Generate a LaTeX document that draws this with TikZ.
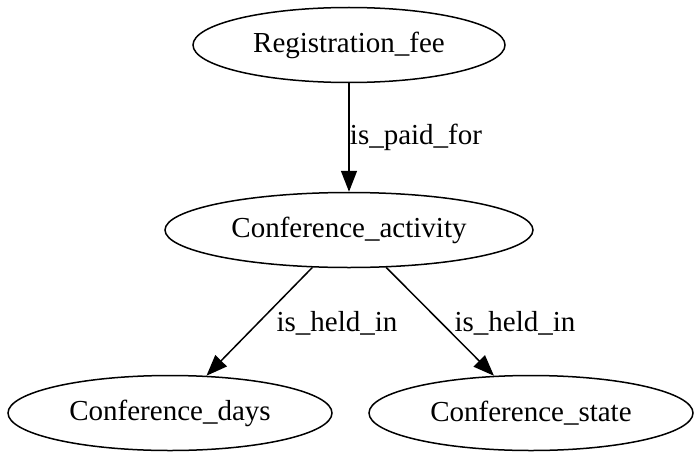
\documentclass[tikz,border=0pt]{standalone}
\usepackage{fontspec}
\setmainfont{Liberation Serif}
\usetikzlibrary{shapes.geometric,arrows.meta}
\begin{document}
\begin{tikzpicture}[x=1pt,y=-1pt,
  ent/.style={draw,ellipse,line width=1.5pt,inner sep=0pt,minimum height=75pt,font=\fontsize{29}{34}\selectfont},
  rel/.style={line width=1.5pt,-{Triangle[length=21pt,width=16pt]}},
  lbl/.style={inner sep=0pt,font=\fontsize{29}{34}\selectfont}]
\useasboundingbox (0,0) rectangle (700,460);
\node[ent,minimum width=312pt] (rf) at (349,45) {Registration\_fee};
\node[ent,minimum width=368pt] (ca) at (349,230) {Conference\_activity};
\node[ent,minimum width=324pt] (cd) at (170,413) {Conference\_days};
\node[ent,minimum width=324pt] (cs) at (531,413) {Conference\_state};
\draw[rel] (rf) -- (ca);
\draw[rel] (ca) -- (cd);
\draw[rel] (ca) -- (cs);
\node[lbl] (l1) at (416,137) {is\_paid\_for};
\node[lbl] (l2) at (337,323) {is\_held\_in};
\node[lbl] (l3) at (515,323) {is\_held\_in};
\end{tikzpicture}
\end{document}
